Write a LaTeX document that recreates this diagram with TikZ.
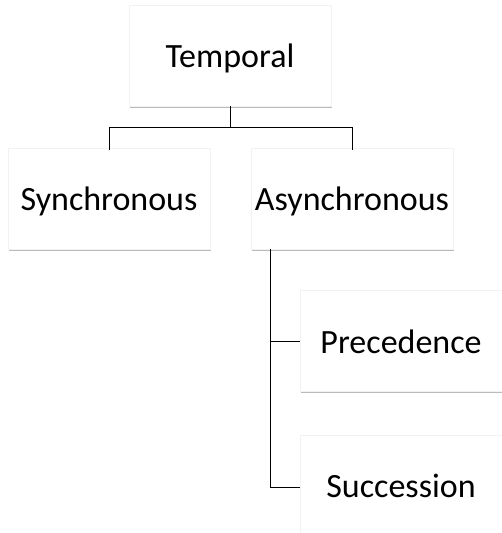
\documentclass[tikz,border=0pt]{standalone}
\usepackage{fontspec}
\setmainfont{Carlito}
\usetikzlibrary{shadows}
\begin{document}
\begin{tikzpicture}[x=1pt,y=-1pt,
  box/.style={draw=black!5, fill=white, minimum width=202pt, minimum height=101pt,
    inner sep=0pt, text height=24pt, text depth=0pt, font=\fontsize{34}{40}\selectfont,
    drop shadow={shadow xshift=1pt, shadow yshift=-1.5pt, fill=black!45, opacity=0.6}},
  conn/.style={draw=black, line width=1pt}]
\useasboundingbox (0,0) rectangle (502,533);
\clip (0,0) rectangle (502,533);
\fill[white] (0,0) rectangle (502,533);
\node[box] (T) at (230,55.5) {Temporal};
\node[box] (S) at (109,198.5) {Synchronous};
\node[box] (A) at (352,198.5) {Asynchronous};
\node[box] (P) at (401,341) {Precedence};
\node[box] (Su) at (401,485.5) {Succession};
\draw[conn] (T.south) -- ++(0,21) coordinate (j);
\draw[conn] ([yshift=-2pt]S.north) |- (j) -| ([yshift=-2pt]A.north);
\draw[conn] ([xshift=20pt]A.south west) |- (P.west);
\draw[conn] ([xshift=20pt]A.south west) |- ([yshift=-2pt]Su.west);
\end{tikzpicture}
\end{document}
